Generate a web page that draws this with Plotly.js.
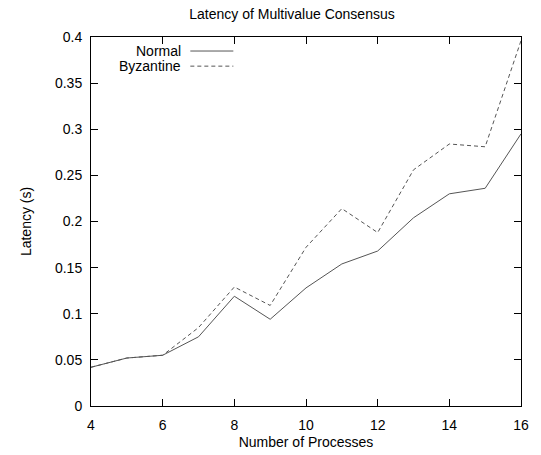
<!DOCTYPE html>
<html>
<head>
<meta charset="utf-8">
<script src="https://cdn.plot.ly/plotly-3.0.1.min.js"></script>
<style>html,body{margin:0;padding:0;background:#fff;}#chart{width:541px;height:455px;}</style>
</head>
<body>
<div id="chart"></div>
<script>
const processes = [4, 5, 6, 7, 8, 9, 10, 11, 12, 13, 14, 15, 16];
const normalLatency = [0.042, 0.052, 0.055, 0.075, 0.119, 0.094, 0.128, 0.154, 0.168, 0.204, 0.230, 0.236, 0.295];
const byzantineLatency = [0.042, 0.052, 0.055, 0.085, 0.129, 0.109, 0.172, 0.214, 0.188, 0.256, 0.284, 0.281, 0.396];
const seriesNames = ['Normal', 'Byzantine'];
const xTicks = [4, 6, 8, 10, 12, 14, 16];
const yTicks = [0, 0.05, 0.1, 0.15, 0.2, 0.25, 0.3, 0.35, 0.4];
const yTickLabels = ['0', '0.05', '0.1', '0.15', '0.2', '0.25', '0.3', '0.35', '0.4'];

const font = {family: 'Liberation Sans, Arial, sans-serif', size: 14, color: '#000'};
const lineColor = '#555';

const traces = [
  {x: processes, y: normalLatency, name: seriesNames[0], mode: 'lines',
   line: {color: lineColor, width: 1}},
  {x: processes, y: byzantineLatency, name: seriesNames[1], mode: 'lines',
   line: {color: lineColor, width: 1, dash: '4px,3px'}}
];

const axisCommon = {
  showline: true, mirror: 'allticks', linecolor: '#000', linewidth: 1,
  ticks: 'inside', ticklen: 7, tickcolor: '#000', tickwidth: 1,
  showgrid: false, zeroline: false, tickfont: font
};

const layout = {
  width: 541, height: 455,
  margin: {l: 91, r: 20, t: 37, b: 49},
  paper_bgcolor: '#fff', plot_bgcolor: '#fff',
  font: font,
  showlegend: false,
  title: {text: 'Latency of Multivalue Consensus', font: font,
          xref: 'container', x: 292 / 541, xanchor: 'center', yref: 'container', y: 1 - 14 / 455, yanchor: 'middle'},
  xaxis: Object.assign({}, axisCommon, {
    range: [4, 16], tickvals: xTicks, ticktext: xTicks.map(String), ticklabelstandoff: 6,
    title: {text: 'Number of Processes', font: font, standoff: 5}
  }),
  yaxis: Object.assign({}, axisCommon, {
    range: [0, 0.4], tickvals: yTicks, ticktext: yTickLabels, ticklabelstandoff: 5,
    title: {text: 'Latency (s)', font: font, standoff: 20}
  }),
  annotations: [
    {text: seriesNames[0], xref: 'paper', yref: 'paper', x: 0.213, y: 0.962,
     xanchor: 'right', yanchor: 'middle', showarrow: false, font: font},
    {text: seriesNames[1], xref: 'paper', yref: 'paper', x: 0.213, y: 0.921,
     xanchor: 'right', yanchor: 'middle', showarrow: false, font: font}
  ],
  shapes: [
    {type: 'line', xref: 'paper', yref: 'paper', x0: 0.231, x1: 0.331, y0: 0.962, y1: 0.962,
     line: {color: lineColor, width: 1}},
    {type: 'line', xref: 'paper', yref: 'paper', x0: 0.231, x1: 0.331, y0: 0.921, y1: 0.921,
     line: {color: lineColor, width: 1, dash: '4px,3px'}}
  ]
};

Plotly.newPlot('chart', traces, layout, {displayModeBar: false, staticPlot: true});
</script>
</body>
</html>
